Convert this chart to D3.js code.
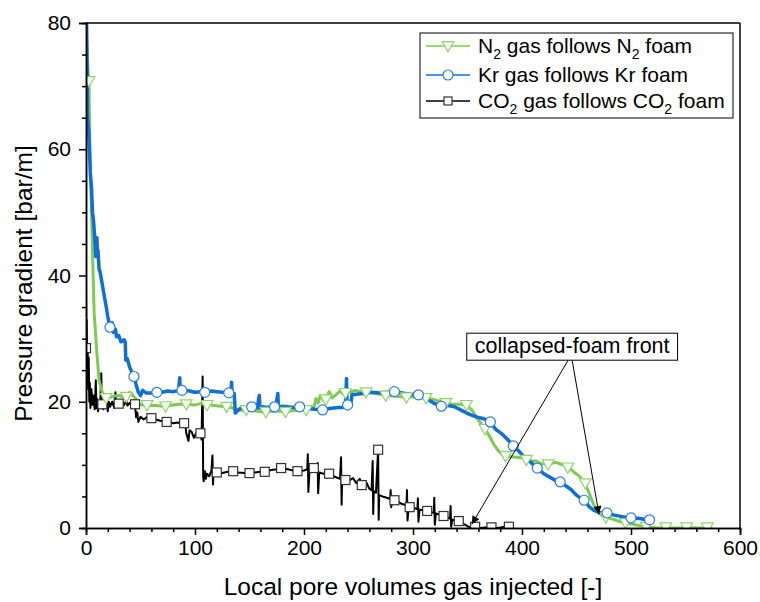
<!DOCTYPE html>
<html>
<head>
<meta charset="utf-8">
<script src="https://cdn.jsdelivr.net/npm/d3@7"></script>
<style>
  body { margin: 0; background: #fff; }
  svg text { font-family: "Liberation Sans", Arial, sans-serif; }
</style>
</head>
<body>
<svg id="chart" width="760" height="602"></svg>
<script>
// ---- data ----
var xTicks = [0, 100, 200, 300, 400, 500, 600];
var yTicks = [0, 20, 40, 60, 80];

// N2 gas follows N2 foam  [PV, bar/m]
var n2Line = [[0.3,80],[1,76],[2,72],[2.7,70.8],[3.3,63],[4.5,54],[6,43.5],[7.5,34],[10,27.7],[12,23.4],[15,21.5],[18,20.6],[22,20.7],[26,20.9],[30,21],[34,20.8],[37,20.8],[40,21.5],[43,21],[46,20.4],[48,19.6],[52,19.5],[56,19.5],[60,19.4],[65,19.4],[70,19.3],[75,19.4],[80,19.5],[85,19.6],[92,19.6],[100,19.5],[105,19.7],[111,19.5],[118,19.4],[124,19.3],[129,19.2],[135,19],[140,18.6],[147,18.7],[153,18.6],[160,18.4],[165,18.4],[172,18.5],[178,18.5],[183,18.4],[190,18.6],[196,18.7],[202,18.7],[206,19.2],[209,19],[211,20.5],[213,19.8],[215,21],[218,20.2],[220,20.4],[223,21.6],[226,20.6],[230,21.2],[233,21.7],[236,21.2],[238,21.4],[242,21.5],[247,21.8],[252,21.6],[257,21.5],[263,21.4],[270,21.2],[275,21],[282,20.9],[288,20.8],[294,20.7],[300,20.8],[306,20.6],[312,20.6],[318,20.4],[324,20.1],[330,19.8],[336,19.6],[343,19.6],[349,19.5],[354,18.7],[358,17.6],[362,16.6],[366,15.7],[370,14.6],[374,13.3],[378,12.3],[382,11.6],[385,11.4],[390,11.3],[395,11.2],[400,11.1],[404,10.8],[408,10.6],[413,10.6],[418,10.2],[422,10.1],[426,10.2],[431,10.4],[436,10.1],[440,9.8],[444,9.4],[448,8.8],[452,8.3],[456,7.5],[460,6.2],[463,4.9],[466,3.6],[470,2.4],[474,1.9],[479,1.6],[485,1.3],[492,0.9],[498,0.7],[504,0.5],[510,0.3],[516,0.1],[525,0],[540,0],[555,0],[574,0]];
var n2Marks = [[2.7,70.8],[18.5,20.6],[37,20.8],[56,19.5],[73,19.3],[92,19.6],[111,19.5],[129,19.2],[147,18.7],[165,18.4],[183,18.4],[202,18.7],[220,20.4],[238,21.4],[257,21.5],[275,21],[294,20.7],[312,20.6],[330,19.8],[349,19.5],[366,15.7],[385,11.4],[404,10.8],[424,10.1],[442,9.6],[458,7.1],[477,1.7],[495,0.8],[514,0.2],[532,0.1],[551,0.1],[570,0.1]];

// Kr gas follows Kr foam
var krLine = [[0.5,80],[1,72],[1.5,65],[2.5,63],[4,56],[5,54],[6,50],[7,48.5],[8,46],[9,43],[10,46],[10.5,43],[11,44],[12,41],[13,40.5],[14,39.5],[16,37.5],[18,35.6],[20,33.5],[22,31.8],[24,32.5],[25,31],[27,31.5],[28,30.3],[30,30.5],[32,29.5],[35,29.8],[36,29.5],[36.5,26.6],[38,26.8],[40,25.5],[42,24.7],[44,24],[46,22.7],[48,21.5],[50,21],[52,21.8],[55,21.4],[60,21.4],[65,21.5],[70,21.5],[75,21.7],[80,21.6],[85,21.8],[86,23.8],[86.5,21.7],[90,21.8],[95,21.7],[100,21.5],[105,21.6],[110,21.5],[115,21.7],[120,21.6],[125,21.5],[130,21.4],[133,21.5],[133.5,23.1],[134,21.4],[136,21.3],[137,18.2],[139,18.6],[142,19],[146,19.1],[150,19.2],[154,19.3],[157,19],[159,21],[159.5,19],[162,19.2],[166,19.1],[170,19.2],[174,19.1],[176,21.3],[176.5,19.1],[180,19.3],[185,19.2],[190,19.1],[196,19.2],[200,19],[205,18.9],[210,18.8],[217,18.7],[222,18.9],[227,19],[232,19.1],[236,19.1],[238,19.2],[239,23.7],[239.5,19.3],[240,19.5],[243,19.6],[244,21.1],[248,21.2],[255,21.3],[262,21.5],[270,21.4],[277,21.5],[283,21.6],[290,21.4],[298,21.2],[305,21.1],[310,20.6],[315,20.2],[320,19.7],[326,19.3],[332,19.4],[338,19.2],[345,18.6],[352,18],[358,17.6],[365,17.3],[371,16.8],[376,15.6],[381,15],[387,14],[392,13],[397,12.2],[402,11.2],[408,10.4],[414,9.5],[420,8.6],[425,8.1],[430,7.6],[435,7.3],[440,6.7],[445,6.1],[450,5.2],[454,4.7],[458,4.2],[462,3.3],[466,2.8],[470,2.5],[475,2.3],[480,2.2],[486,2],[492,1.8],[500,1.6],[508,1.5],[514,1.3],[518,1.3]];
var krMarks = [[22,31.8],[44,24],[65,21.5],[88,21.8],[109,21.5],[131,21.4],[152,19.2],[173,19.2],[196,19.2],[217,18.7],[240,19.5],[283,21.6],[305,21.1],[326,19.3],[371,16.8],[392,13],[414,9.5],[435,7.3],[457,4.4],[478,2.4],[500,1.6],[517,1.3]];

// CO2 gas follows CO2 foam
var co2Line = [[0,39],[0.3,28],[0.6,33],[1,26],[1.5,29],[2,22],[2.5,27],[3,20],[3.5,23],[4,19],[5,22],[6,19.5],[7,21],[8,18.8],[9,23.4],[9.5,19],[10,20.5],[11,18.5],[12,20],[13,19],[14,24.5],[14.5,19.5],[16,18.8],[17,20.3],[18,19],[19,20.5],[20,18.5],[21,20],[22,19.2],[24,20],[26,19],[27,21.5],[27.5,19.4],[29,19.8],[31,19.2],[33,20],[35,19.5],[37,20.2],[38,19.4],[40,19.8],[42,19.4],[44,19.8],[45,19.5],[46,17.5],[47,18.3],[48,16.8],[50,17.6],[53,17.2],[56,17.6],[60,17.4],[64,17.2],[68,17],[72,16.9],[76,16.8],[80,16.6],[84,16.7],[88,16.5],[91,16.6],[92,15],[94,13.8],[95,15.5],[97,15.2],[99,14.3],[101,15],[103,14.8],[105,15],[106,14],[107,24],[107.5,8],[108,7.4],[109,9],[110,7.8],[111,8.6],[113,8.2],[115,9],[116,11.5],[116.5,6.9],[117,8.8],[119,8.5],[121,9],[125,8.7],[130,8.9],[135,9],[140,8.8],[145,8.7],[150,8.7],[155,8.8],[160,8.9],[165,9],[170,9.2],[175,9.3],[180,9.5],[185,9.3],[190,9.1],[195,9],[200,9.1],[203,9.3],[203.5,11.7],[204,5.7],[205,9],[209,9.5],[212,9],[212.5,10.3],[213,5.5],[214,8.8],[218,8.6],[222,8.7],[226,8.3],[230,8],[233,7.8],[234,11.2],[234.5,3.7],[235,7.7],[238,7.6],[242,7.6],[245,7.9],[248,7.1],[251,7.8],[254,6.8],[257,7.3],[260,6.2],[262,6],[263,10.6],[263.5,2.2],[264,5.8],[266,5.6],[268,12.4],[268.5,1.3],[269,5.2],[272,5],[276,4.8],[279,4.6],[279.5,6],[280,3.3],[281,4.5],[285,4.3],[290,3.8],[294,3.6],[294.5,6],[295,1.2],[296,3.4],[300,3.2],[304,3],[304.5,4.7],[305,1],[306,2.9],[310,2.8],[315,2.6],[319,2.4],[319.5,4.8],[320,0.5],[321,2.3],[325,2.1],[330,1.8],[334,1.5],[334.5,3.5],[335,0.2],[336,1.3],[340,1.1],[344,0.9],[348,0.5],[352,0.1],[356,0.2],[362,0],[368,0.1],[372,0.1],[378,0],[384,0.2],[388,0.2],[392,0]];
var co2Marks = [[0,28.5],[15,19.6],[30,19.7],[45,19.6],[60,17.4],[74,16.8],[90,16.6],[105,15],[120,8.8],[135,9],[150,8.7],[164,8.9],[179,9.5],[194,9],[209,9.5],[223,8.6],[238,7.6],[253,6.8],[268,12.4],[283,4.4],[297,3.3],[313,2.7],[328,1.9],[342,1.1],[357,0.2],[372,0.1],[388,0.2]];

// annotation (data units)
var noteCenter = [446, 28.8];
var noteTips = [[354, 0.6], [470.6, 2.2]];

// ---- chart ----
var svg = d3.select("#chart"),
    margin = { top: 23, right: 20, bottom: 74, left: 86 },
    width = +svg.attr("width") - margin.left - margin.right,
    height = +svg.attr("height") - margin.top - margin.bottom,
    g = svg.append("g").attr("transform", "translate(" + margin.left + "," + margin.top + ")");

var x = d3.scaleLinear().domain([0, 600]).range([0, width]);
var y = d3.scaleLinear().domain([0, 80]).range([height, 0]);

var cGreen = "#7dcc4f", cGreenMk = "#8fd66a", cBlue = "#0f6fd8", cBlueMk = "#2a80e6";

svg.append("defs").append("clipPath").attr("id", "plotclip")
    .append("rect").attr("width", width).attr("height", height);

var line = d3.line().x(function (d) { return x(d[0]); }).y(function (d) { return y(d[1]); });

var plot = g.append("g").attr("clip-path", "url(#plotclip)");

plot.append("path").datum(co2Line).attr("d", line)
    .attr("fill", "none").attr("stroke", "#000").attr("stroke-width", 2).attr("stroke-linejoin", "round");
plot.append("path").datum(n2Line).attr("d", line)
    .attr("fill", "none").attr("stroke", cGreen).attr("stroke-width", 3).attr("stroke-linejoin", "round");
plot.append("path").datum(krLine).attr("d", line)
    .attr("fill", "none").attr("stroke", cBlue).attr("stroke-width", 3.5).attr("stroke-linejoin", "round");

var tri = d3.symbol().type(d3.symbolTriangle).size(60);

plot.selectAll(".sq").data(co2Marks).enter().append("rect")
    .attr("x", function (d) { return x(d[0]) - 4.5; })
    .attr("y", function (d) { return y(d[1]) - 4.5; })
    .attr("width", 9).attr("height", 9)
    .attr("fill", "#fff").attr("stroke", "#333").attr("stroke-width", 1.2);

plot.selectAll(".tri").data(n2Marks).enter().append("path")
    .attr("d", tri)
    .attr("transform", function (d) { return "translate(" + x(d[0]) + "," + (y(d[1]) - 1) + ") rotate(180)"; })
    .attr("fill", "#fff").attr("stroke", cGreenMk).attr("stroke-width", 1.2);

plot.selectAll(".circ").data(krMarks).enter().append("circle")
    .attr("cx", function (d) { return x(d[0]); })
    .attr("cy", function (d) { return y(d[1]); })
    .attr("r", 5)
    .attr("fill", "#fff").attr("stroke", cBlueMk).attr("stroke-width", 1.2);

// axes
g.append("g").attr("transform", "translate(0," + height + ")")
    .call(d3.axisBottom(x).tickValues(xTicks).tickSize(7).tickPadding(5));
g.append("g").attr("transform", "translate(0," + height + ")")
    .call(d3.axisBottom(x).tickValues(d3.range(20, 600, 20).filter(function (v) { return v % 100; }))
        .tickSize(4).tickFormat(""));
g.append("g")
    .call(d3.axisLeft(y).tickValues(yTicks).tickSize(7).tickPadding(8));
g.append("g")
    .call(d3.axisLeft(y).tickValues(d3.range(5, 80, 5).filter(function (v) { return v % 20; }))
        .tickSize(4).tickFormat(""));

g.selectAll(".domain").attr("stroke-width", 1.5);
g.selectAll(".tick line").attr("stroke-width", 1.5);
g.selectAll(".tick text").attr("font-size", 21).attr("fill", "#000");

// frame top/right
g.append("line").attr("x1", 0).attr("x2", width).attr("y1", 0).attr("y2", 0)
    .attr("stroke", "#000").attr("stroke-width", 1.5);
g.append("line").attr("x1", width).attr("x2", width).attr("y1", 0).attr("y2", height)
    .attr("stroke", "#000").attr("stroke-width", 1.5);

// axis titles
svg.append("text").attr("x", margin.left + width / 2).attr("y", 595)
    .attr("text-anchor", "middle").attr("font-size", 24.5)
    .text("Local pore volumes gas injected [-]");
svg.append("text").attr("transform", "translate(32," + (margin.top + height / 2 + 8) + ") rotate(-90)")
    .attr("text-anchor", "middle").attr("font-size", 24.5)
    .text("Pressure gradient [bar/m]");

// legend
var legend = svg.append("g").attr("transform", "translate(420,33)");
legend.append("rect").attr("width", 313).attr("height", 85)
    .attr("fill", "#fff").attr("stroke", "#000").attr("stroke-width", 1);

var rows = [
    { color: cGreen, mk: "tri", parts: [["N", 0], ["2", 1], [" gas follows N", 0], ["2", 1], [" foam", 0]] },
    { color: cBlue, mk: "circ", parts: [["Kr gas follows Kr foam", 0]] },
    { color: "#000", mk: "sq", parts: [["CO", 0], ["2", 1], [" gas follows CO", 0], ["2", 1], [" foam", 0]] }
];
var rowY = [13, 42, 68];

rows.forEach(function (r, i) {
    var row = legend.append("g").attr("transform", "translate(0," + rowY[i] + ")");
    row.append("line").attr("x1", 6).attr("x2", 50).attr("stroke", r.color).attr("stroke-width", 1.5);
    if (r.mk === "tri") {
        row.append("path").attr("d", tri).attr("transform", "translate(28,-1) rotate(180)")
            .attr("fill", "#fff").attr("stroke", cGreenMk).attr("stroke-width", 1.2);
    } else if (r.mk === "circ") {
        row.append("circle").attr("cx", 28).attr("r", 5)
            .attr("fill", "#fff").attr("stroke", cBlueMk).attr("stroke-width", 1.2);
    } else {
        row.append("rect").attr("x", 24).attr("y", -4).attr("width", 8).attr("height", 8)
            .attr("fill", "#fff").attr("stroke", "#333").attr("stroke-width", 1.2);
    }
    var t = row.append("text").attr("x", 58).attr("y", 7).attr("font-size", 21);
    r.parts.forEach(function (p) {
        var s = t.append("tspan").text(p[0]);
        if (p[1]) s.attr("font-size", 14).attr("dy", 6);
        else if (t.selectAll("tspan").size() > 1) s.attr("dy", -6);
    });
});

// annotation
var nx = x(noteCenter[0]) + margin.left, ny = y(noteCenter[1]) + margin.top;
svg.append("defs").append("marker").attr("id", "arrow")
    .attr("viewBox", "0 0 10 10").attr("refX", 10).attr("refY", 5)
    .attr("markerWidth", 11).attr("markerHeight", 8).attr("orient", "auto")
    .attr("markerUnits", "userSpaceOnUse")
    .append("path").attr("d", "M0,0 L10,5 L0,10 z").attr("fill", "#000");

noteTips.forEach(function (tp, i) {
    svg.append("line")
        .attr("x1", nx - 4 + i * 4).attr("y1", ny + 14)
        .attr("x2", x(tp[0]) + margin.left).attr("y2", y(tp[1]) + margin.top)
        .attr("stroke", "#000").attr("stroke-width", 1)
        .attr("marker-end", "url(#arrow)");
});
var note = svg.append("g");
var noteText = note.append("text").attr("x", nx).attr("y", ny + 7)
    .attr("text-anchor", "middle").attr("font-size", 21.5).text("collapsed-foam front");
var bb = noteText.node().getBBox();
note.insert("rect", "text").attr("x", bb.x - 8).attr("y", ny - 13)
    .attr("width", bb.width + 16).attr("height", 27)
    .attr("fill", "#fff").attr("stroke", "#000").attr("stroke-width", 1);
</script>
</body>
</html>
